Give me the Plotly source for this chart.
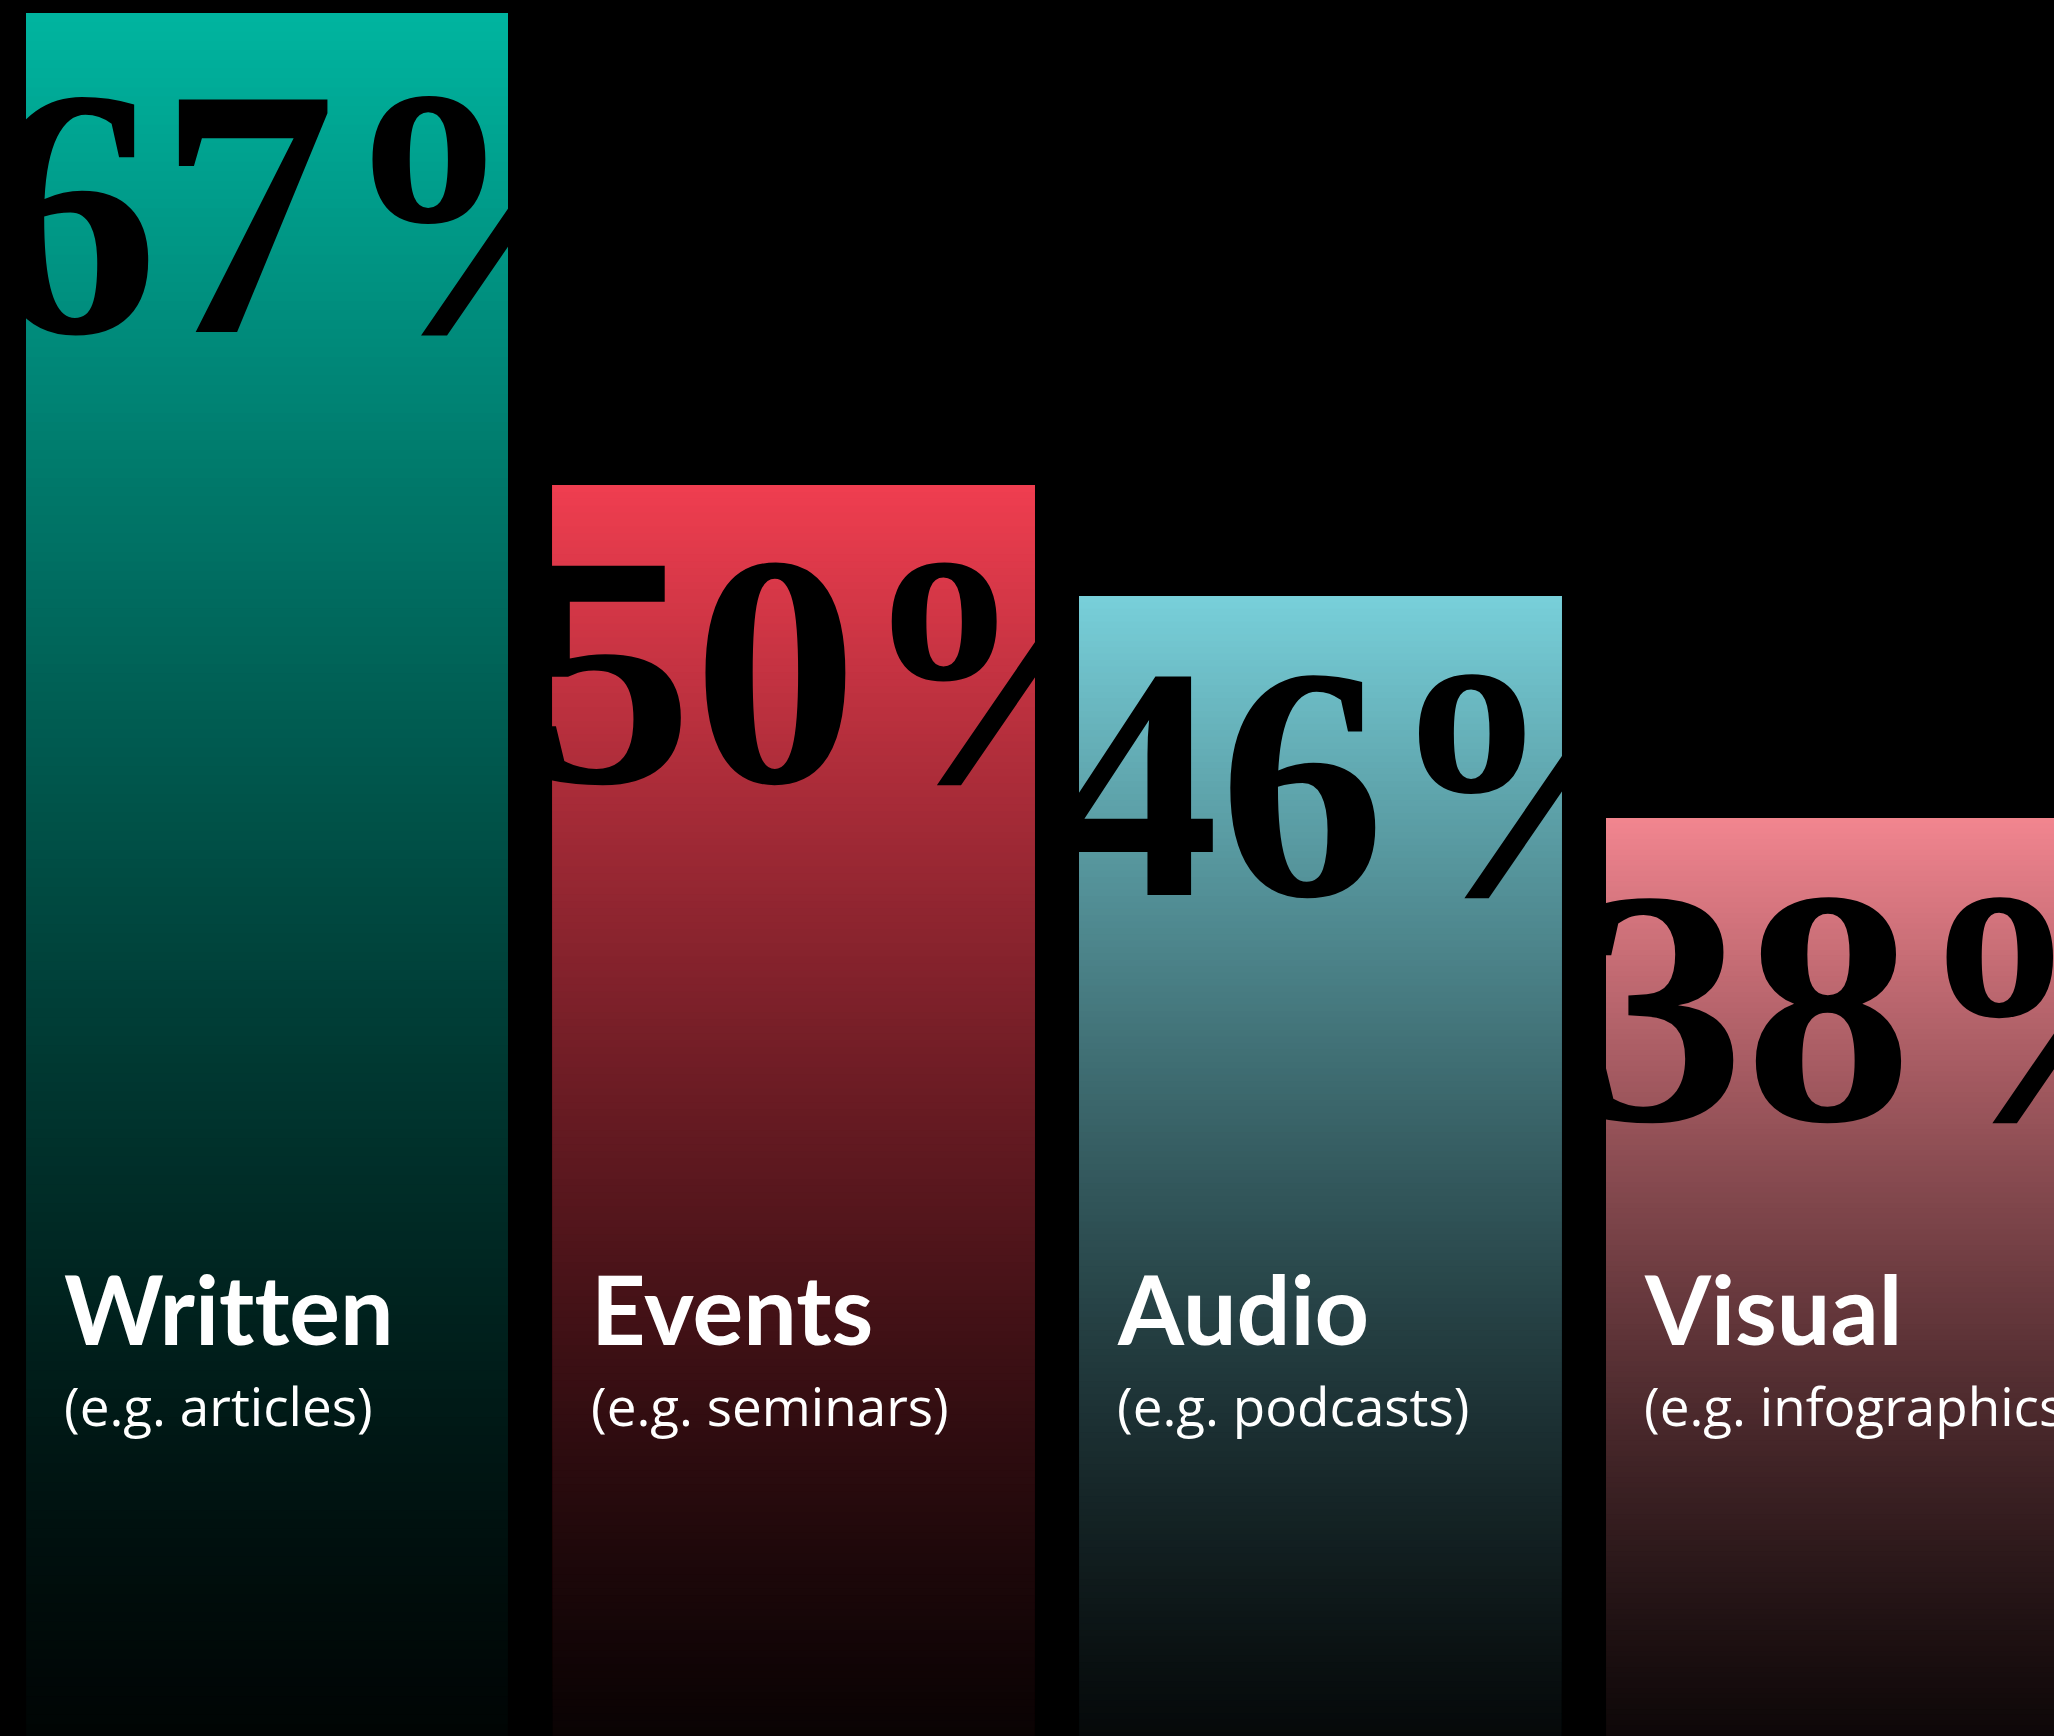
import plotly.graph_objects as go

# Share of respondents by content format
categories = ["Written", "Events", "Audio", "Visual"]
examples = ["(e.g. articles)", "(e.g. seminars)", "(e.g. podcasts)", "(e.g. infographics)"]
values = [67, 50, 46, 38]
top_colors = ["#00B5A0", "#F03E50", "#78D0DA", "#F2858F"]
pct_sizes = [355, 330, 332, 335]

BAR_WIDTH = 0.915
N_STEPS = 200          # slices used to paint each vertical gradient
FADE_POWER = 1.4       # how quickly each bar fades into black
# invisible lead glyph that nudges the centred percentage to the right
PAD = '<span style="color:rgba(0,0,0,0)">s</span>'


def hex_to_rgb(h):
    h = h.lstrip("#")
    return tuple(int(h[i:i + 2], 16) for i in (0, 2, 4))


def fade(rgb, t):
    k = t ** FADE_POWER
    return "rgb({},{},{})".format(*(round(c * k) for c in rgb))


fig = go.Figure()

for i, (val, col, fs) in enumerate(zip(values, top_colors, pct_sizes)):
    rgb = hex_to_rgb(col)
    step = val / N_STEPS
    bases = [step * k for k in range(N_STEPS)]
    # each slice runs to the top of the bar; the next slice is painted over it
    heights = [val - b for b in bases]
    colors = [fade(rgb, (k + 0.5) / N_STEPS) for k in range(N_STEPS)]
    fig.add_trace(go.Bar(
        x=[i] * N_STEPS, y=heights, base=bases,
        width=BAR_WIDTH, marker=dict(color=colors, line=dict(width=0)),
        hoverinfo="skip", showlegend=False,
    ))
    # transparent full-height bar carrying the big percentage label;
    # the following bar is drawn over any overflow
    fig.add_trace(go.Bar(
        x=[i], y=[val], base=[0], width=BAR_WIDTH,
        marker=dict(color="rgba(0,0,0,0)", line=dict(width=0)),
        text=[PAD + f"{val}%"], textposition="inside",
        insidetextanchor="end", textangle=0, constraintext="none",
        insidetextfont=dict(family="Liberation Serif", size=fs,
                            color="#000000", weight="bold"),
        hoverinfo="skip", showlegend=False,
    ))

annotations = []
for i, (cat, ex) in enumerate(zip(categories, examples)):
    left_edge = i - BAR_WIDTH / 2
    annotations.append(dict(
        x=left_edge, xref="x", xanchor="left", xshift=36,
        y=0.2805, yref="paper", yanchor="top",
        text="<b>" + cat.replace("tt", "t\u200ct") + "</b>",
        showarrow=False, align="left",
        font=dict(family="Lato", size=95, color="#FFFFFF"),
    ))
    annotations.append(dict(
        x=left_edge, xref="x", xanchor="left", xshift=36,
        y=0.2125, yref="paper", yanchor="top",
        text=ex, showarrow=False, align="left",
        font=dict(family="Open Sans", size=53, color="#FFFFFF"),
    ))

fig.update_layout(
    width=2054, height=1736,
    margin=dict(l=0, r=0, t=0, b=0, pad=0),
    paper_bgcolor="#000000", plot_bgcolor="#000000",
    barmode="overlay", showlegend=False, hovermode=False,
    xaxis=dict(visible=False, range=[-0.507, 3.393], fixedrange=True),
    yaxis=dict(visible=False, range=[4.93, 67.47], fixedrange=True),
    annotations=annotations,
)

fig.write_html("out.html", config={"displayModeBar": False})
